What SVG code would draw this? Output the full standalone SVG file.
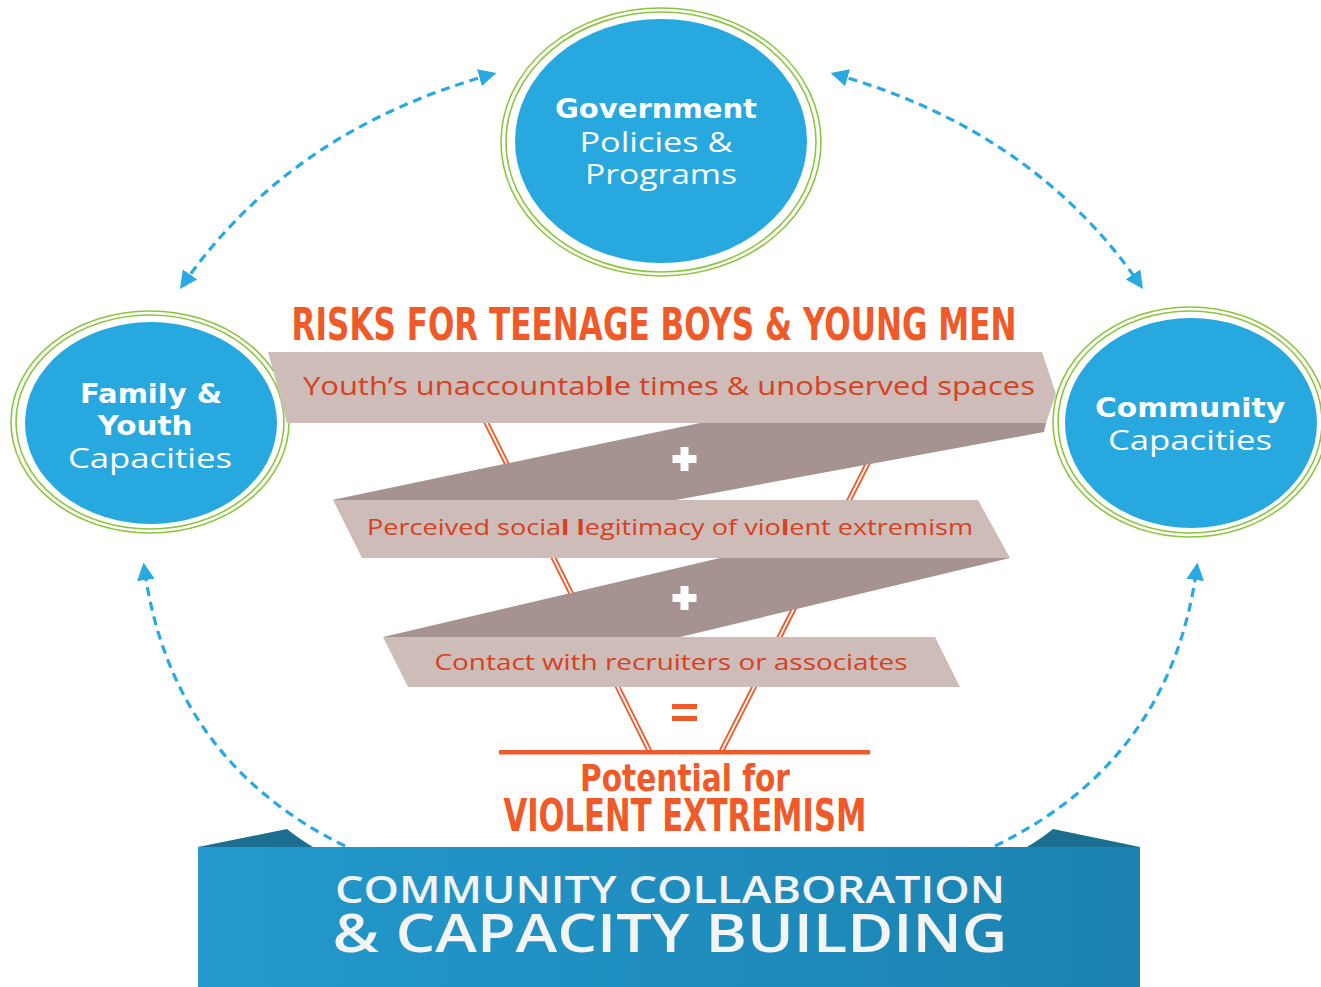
<svg xmlns="http://www.w3.org/2000/svg" width="1321" height="987" viewBox="0 0 1321 987">
<style>
.blue{fill:#27a8df}
.ring{fill:none;stroke:#8cc63f;stroke-width:1.6}
.ct{fill:#ffffff;font-family:'Open Sans','Noto Sans','Liberation Sans',sans-serif;text-anchor:middle}
.cb{font-family:'DejaVu Sans','Liberation Sans',sans-serif;font-weight:bold}
.cond{font-family:'Liberation Sans Narrow','DejaVu Sans Condensed','Roboto Condensed','Liberation Sans',sans-serif;font-stretch:condensed;font-weight:bold;fill:#f05a28;text-anchor:middle}
.rt{fill:#d8401f;font-family:'Open Sans','Noto Sans','Liberation Sans',sans-serif;text-anchor:middle}
.light{fill:#cdbcb8}
.dark{fill:#a69391}
.dash{fill:none;stroke:#29a9e1;stroke-width:3.2;stroke-dasharray:9 6}
.vline{stroke:#f05a28;stroke-width:5.5;fill:none}
.vgap{stroke:#ffffff;stroke-width:1.8;fill:none}
.bt{fill:#f4f4f4;font-family:'Open Sans','Noto Sans','Liberation Sans',sans-serif;font-weight:600;text-anchor:middle}
</style>
<defs>
<marker id="ah" viewBox="0 0 10 10" refX="8" refY="5" markerWidth="5.5" markerHeight="5.5" orient="auto-start-reverse" markerUnits="strokeWidth">
<path d="M0,0 L10,5 L0,10 z" fill="#29a9e1"/>
</marker>
<linearGradient id="bg" x1="0" y1="0" x2="1" y2="0">
<stop offset="0" stop-color="#2399cd"/>
<stop offset="1" stop-color="#1b82b0"/>
</linearGradient>
</defs>
<rect width="1321" height="987" fill="#ffffff"/>

<g id="connectors">
<path class="dash" d="M182,286 Q290,130 493,74" marker-start="url(#ah)" marker-end="url(#ah)"/>
<path class="dash" d="M834,74 Q1034,130 1141,286" marker-start="url(#ah)" marker-end="url(#ah)"/>
<path class="dash" d="M345,846 Q170,760 144,566" marker-end="url(#ah)"/>
<path class="dash" d="M995,846 Q1172,760 1197,566" marker-end="url(#ah)"/>
</g>

<g id="government">
<ellipse class="ring" cx="661" cy="142" rx="160" ry="134"/>
<ellipse class="ring" cx="661" cy="142" rx="155" ry="130"/>
<ellipse class="blue" cx="661" cy="141" rx="146" ry="122"/>
<text class="ct cb" x="656" y="118" font-size="27" textLength="202" lengthAdjust="spacingAndGlyphs">Government</text>
<text class="ct" x="656" y="152" font-size="27" textLength="153" lengthAdjust="spacingAndGlyphs">Policies &amp;</text>
<text class="ct" x="661" y="184" font-size="27" textLength="152" lengthAdjust="spacingAndGlyphs">Programs</text>
</g>

<g id="family">
<ellipse class="ring" cx="150" cy="422" rx="139" ry="111"/>
<ellipse class="ring" cx="150" cy="422" rx="134" ry="107"/>
<ellipse class="blue" cx="151" cy="423" rx="126" ry="101"/>
<text class="ct cb" x="151" y="403" font-size="26" textLength="142" lengthAdjust="spacingAndGlyphs">Family &amp;</text>
<text class="ct cb" x="145" y="435" font-size="26" textLength="95" lengthAdjust="spacingAndGlyphs">Youth</text>
<text class="ct" x="150" y="468" font-size="28" textLength="164" lengthAdjust="spacingAndGlyphs">Capacities</text>
</g>

<g id="community">
<ellipse class="ring" cx="1190" cy="422" rx="137" ry="115"/>
<ellipse class="ring" cx="1190" cy="422" rx="132" ry="111"/>
<ellipse class="blue" cx="1191" cy="423" rx="126" ry="105"/>
<text class="ct cb" x="1190" y="417" font-size="26" textLength="190" lengthAdjust="spacingAndGlyphs">Community</text>
<text class="ct" x="1190" y="450" font-size="28" textLength="164" lengthAdjust="spacingAndGlyphs">Capacities</text>
</g>

<g id="risks">
<text class="cond" x="654" y="340" font-size="44" textLength="725" lengthAdjust="spacingAndGlyphs">RISKS FOR TEENAGE BOYS &amp; YOUNG MEN</text>
<line class="vline" x1="484" y1="418" x2="650" y2="752"/>
<line class="vgap" x1="484" y1="418" x2="650" y2="752"/>
<line class="vline" x1="900" y1="400" x2="721" y2="752"/>
<line class="vgap" x1="900" y1="400" x2="721" y2="752"/>
<polygon class="light" points="268,352 1042,352 1056,394 1046,423 287,423"/>
<polygon class="dark" points="332,500 700,423 1046,423 1044,432 676,500"/>
<polygon class="light" points="333,500 978,500 1010,558 362,558"/>
<polygon class="dark" points="383,637 720,558 1010,558 680,637"/>
<polygon class="light" points="383,637 935,637 960,687 408,687"/>
<text class="rt" x="669" y="395" font-size="25" textLength="732" lengthAdjust="spacingAndGlyphs">Youth’s unaccountab<tspan font-weight="bold">l</tspan>e times &amp; unobserved spaces</text>
<text class="rt" x="670" y="535" font-size="21" textLength="606" lengthAdjust="spacingAndGlyphs">Perceived socia<tspan font-weight="bold">l</tspan> <tspan font-weight="bold">l</tspan>egitimacy of vio<tspan font-weight="bold">l</tspan>ent extremism</text>
<text class="rt" x="671" y="670" font-size="21" textLength="473" lengthAdjust="spacingAndGlyphs">Contact with recruiters or associates</text>
<path d="M680.5,447 h8 v8 h8 v8 h-8 v8 h-8 v-8 h-8 v-8 h8 z" fill="#ffffff"/>
<path d="M680.5,586 h8 v8 h8 v8 h-8 v8 h-8 v-8 h-8 v-8 h8 z" fill="#ffffff"/>
<rect x="672" y="704" width="25" height="5" fill="#f05a28"/>
<rect x="672" y="716" width="25" height="5" fill="#f05a28"/>
<rect x="499" y="750" width="371" height="4.5" fill="#f05a28"/>
<text class="cond" x="685" y="791" font-size="38" textLength="210" lengthAdjust="spacingAndGlyphs">Potential for</text>
<text class="cond" x="685" y="831" font-size="44" textLength="363" lengthAdjust="spacingAndGlyphs">VIOLENT EXTREMISM</text>
</g>

<g id="banner">
<path d="M198,847 L287,829 Q298,838 313,847 Z" fill="#1b6e8f"/>
<path d="M1027,847 Q1042,838 1053,829 L1140,847 Z" fill="#1b6e8f"/>
<rect x="198" y="847" width="942" height="140" fill="url(#bg)"/>
<text class="bt" x="670" y="903" font-size="37" textLength="670" lengthAdjust="spacingAndGlyphs">COMMUNITY COLLABORATION</text>
<text class="bt" x="670" y="952" font-size="52" textLength="675" lengthAdjust="spacingAndGlyphs">&amp; CAPACITY BUILDING</text>
</g>
</svg>
